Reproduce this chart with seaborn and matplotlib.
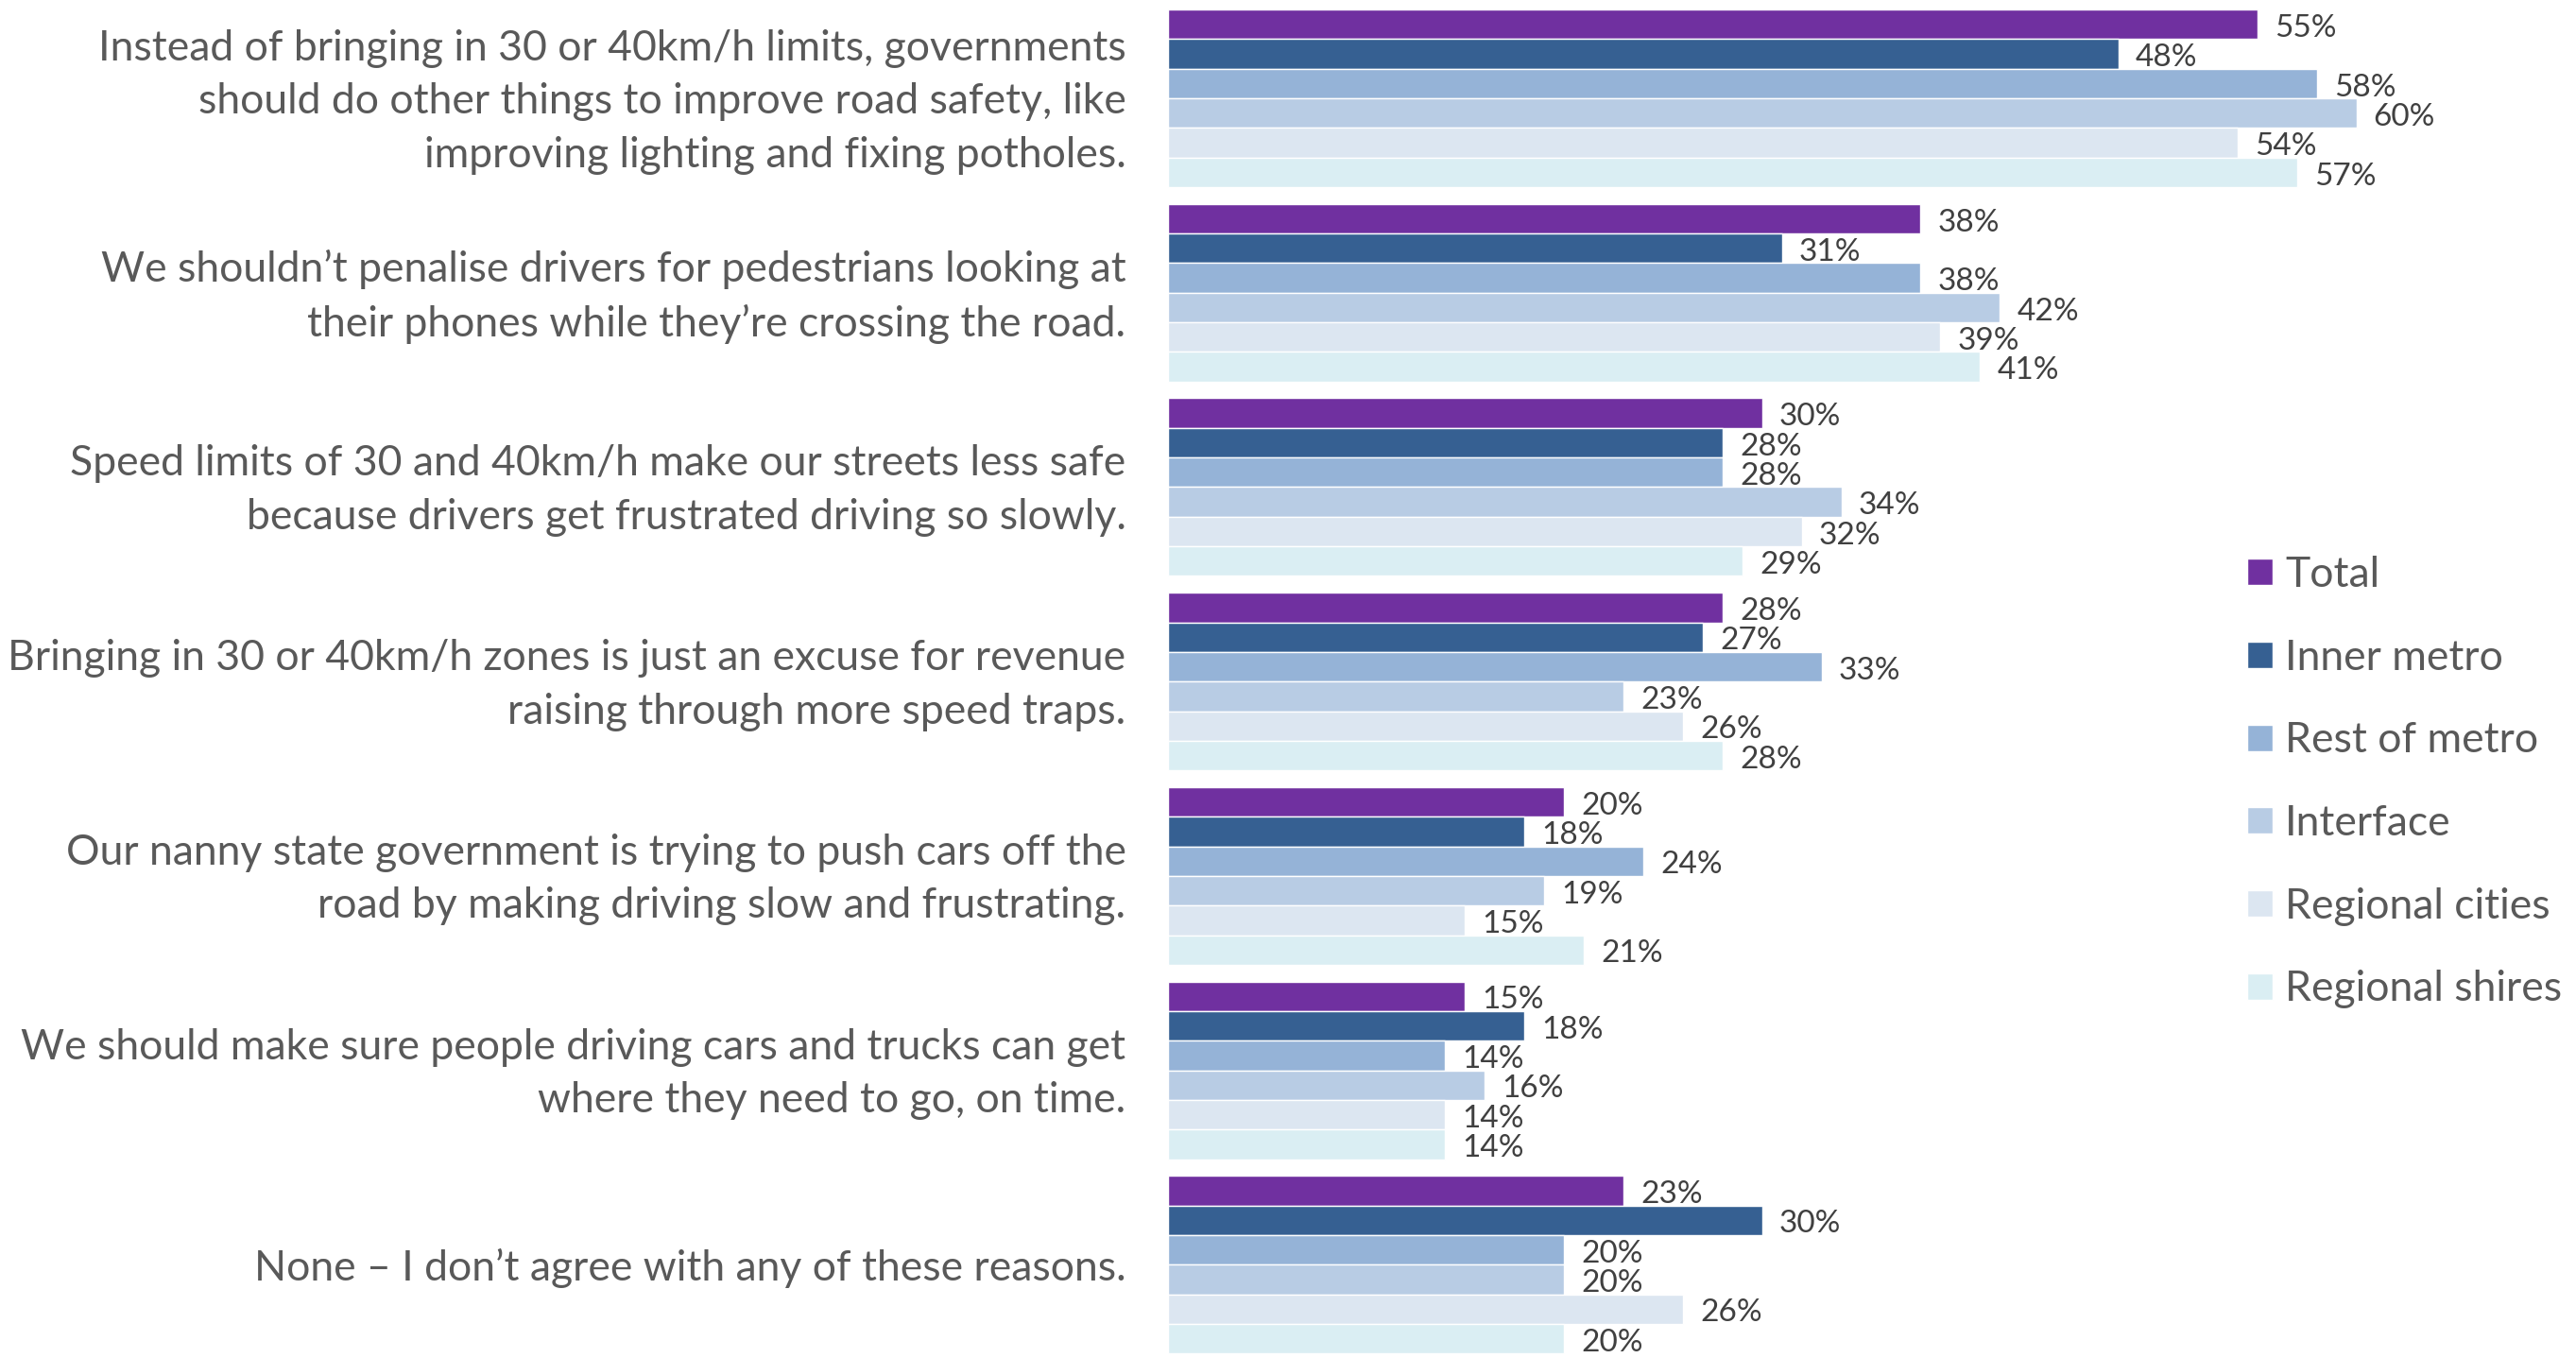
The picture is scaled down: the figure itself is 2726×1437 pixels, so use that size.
import numpy as np
import pandas as pd
import matplotlib.pyplot as plt
import matplotlib.transforms as mtransforms
import seaborn as sns

# Style
sns.set_style("white")
plt.rcParams['font.family'] = ['Lato', 'DejaVu Sans']

# Data
statements = [
    "Instead of bringing in 30 or 40km/h limits, governments\nshould do other things to improve road safety, like\nimproving lighting and fixing potholes.",
    "We shouldn\u2019t penalise drivers for pedestrians looking at\ntheir phones while they\u2019re crossing the road.",
    "Speed limits of 30 and 40km/h make our streets less safe\nbecause drivers get frustrated driving so slowly.",
    "Bringing in 30 or 40km/h zones is just an excuse for revenue\nraising through more speed traps.",
    "Our nanny state government is trying to push cars off the\nroad by making driving slow and frustrating.",
    "We should make sure people driving cars and trucks can get\nwhere they need to go, on time.",
    "None \u2013 I don\u2019t agree with any of these reasons.",
]
regions = ["Total", "Inner metro", "Rest of metro", "Interface", "Regional cities", "Regional shires"]

total = [55, 38, 30, 28, 20, 15, 23]
inner_metro = [48, 31, 28, 27, 18, 18, 30]
rest_of_metro = [58, 38, 28, 33, 24, 14, 20]
interface = [60, 42, 34, 23, 19, 16, 20]
regional_cities = [54, 39, 32, 26, 15, 14, 26]
regional_shires = [57, 41, 29, 28, 21, 14, 20]

colors = ["#7030A0", "#366092", "#95B3D7", "#B8CCE4", "#DCE6F1", "#DAEEF3"]

series = [total, inner_metro, rest_of_metro, interface, regional_cities, regional_shires]
rows = []
for reg, vals in zip(regions, series):
    for st, v in zip(statements, vals):
        rows.append({"statement": st, "region": reg, "value": v})
df = pd.DataFrame(rows)

W, H = 2726, 1437
fig = plt.figure(figsize=(W / 100, H / 100), dpi=100)
left_px = 1236
ax = fig.add_axes([left_px / W, 0, 1 - left_px / W, 1])

sns.barplot(
    data=df, y="statement", x="value", hue="region",
    order=statements, hue_order=regions, palette=colors,
    width=0.914, saturation=1, orient="h", ax=ax,
)

# value labels, nudged slightly below bar centre
for c in ax.containers:
    texts = ax.bar_label(c, fmt="%.0f%%", padding=13, fontsize=24, color="#404040")
    for t in texts:
        t.xyann = (13, -3)

px_per_pct = 20.96
ax.set_xlim(0, (W - left_px) / px_per_pct)
ax.set_ylim(6.48, -0.506)

sns.despine(ax=ax, left=True, bottom=True)
ax.set_xticks([])
ax.set_xlabel("")
ax.set_ylabel("")
ax.tick_params(axis="y", length=0, pad=32, labelsize=32, labelcolor="#595959")
for lbl in ax.get_yticklabels():
    lbl.set_linespacing(1.47)
    lbl.set_horizontalalignment("right")
    if "\n" in lbl.get_text():
        # multi-line labels sit a little low; lift them
        lbl.set_transform(lbl.get_transform() +
                          mtransforms.ScaledTranslation(0, 0.08, fig.dpi_scale_trans))

# legend
handles, labels = ax.get_legend_handles_labels()
if ax.get_legend() is not None:
    ax.get_legend().remove()
fig.legend(
    handles, labels, loc="upper left",
    bbox_to_anchor=(2378 / W, 1 - 588 / H),
    frameon=False, fontsize=32, labelcolor="#595959",
    handlelength=0.6, handleheight=0.6, handletextpad=0.3,
    labelspacing=1.05, borderpad=0, borderaxespad=0,
)

fig.savefig("out.png", dpi=100)
